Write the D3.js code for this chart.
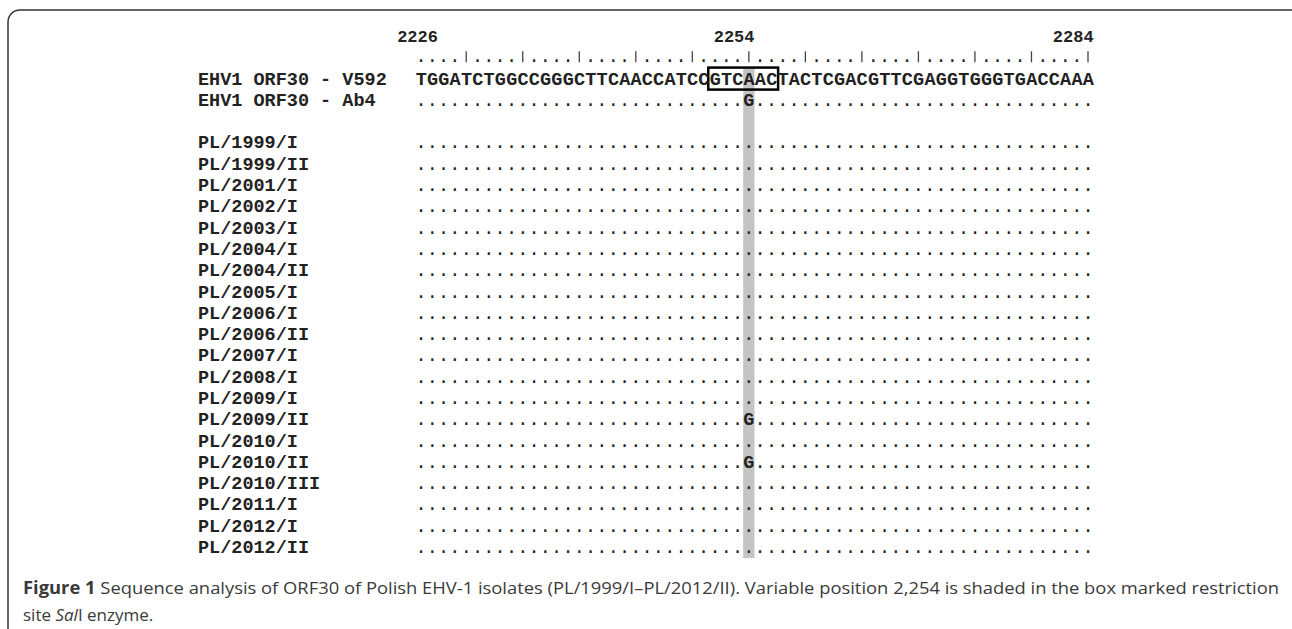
<!DOCTYPE html>
<html>
<head>
<meta charset="utf-8">
<script src="https://cdn.jsdelivr.net/npm/d3@7"></script>
<style>
  body { margin: 0; background: #fff; }
</style>
</head>
<body>
<script>
// reference sequence and the isolates aligned against it
var startPos = 2225;
var refLabel = "EHV1 ORF30 - V592";
var refSeq = "TGGATCTGGCCGGGCTTCAACCATCCGTCAACTACTCGACGTTCGAGGTGGGTGACCAAA";
var numberLabels = [2226, 2254, 2284];
var variablePos = 2254;
var siteStart = 2251, siteEnd = 2256;   // GTCAAC box

var seqLabels = ["EHV1 ORF30 - Ab4", "",
  "PL/1999/I", "PL/1999/II", "PL/2001/I", "PL/2002/I", "PL/2003/I",
  "PL/2004/I", "PL/2004/II", "PL/2005/I", "PL/2006/I", "PL/2006/II",
  "PL/2007/I", "PL/2008/I", "PL/2009/I", "PL/2009/II", "PL/2010/I",
  "PL/2010/II", "PL/2010/III", "PL/2011/I", "PL/2012/I", "PL/2012/II"];
// base at the variable position for each row ("." = same as V592)
var variableBase = [".", "",
  ".", ".", ".", ".", ".", ".", ".", ".", ".", ".",
  ".", ".", ".", "G", ".", "G", ".", ".", ".", "."];
variableBase[0] = "G";

var W = 1292, H = 629;
var svg = d3.select("body").append("svg")
    .attr("width", W)
    .attr("height", H);

// frame
svg.append("rect")
    .attr("x", 8).attr("y", 10)
    .attr("width", 1300).attr("height", 700)
    .attr("rx", 12)
    .attr("fill", "none")
    .attr("stroke", "#333")
    .attr("stroke-width", 1.5);

var n = refSeq.length;
var x = d3.scaleLinear().domain([0, n - 1]).range([421, 1088]);
var colW = (x(1) - x(0));
var y = d3.scaleLinear().domain([0, 24]).range([36, 547]);

var mono = "'Liberation Mono', 'DejaVu Sans Mono', monospace";
var fs = 18.5;

var vCol = variablePos - startPos;

// shaded column
svg.append("rect")
    .attr("x", x(vCol) - colW / 2)
    .attr("y", y(2) - 10)
    .attr("width", colW)
    .attr("height", y(24) + 11 - (y(2) - 10))
    .attr("fill", "#c4c4c4");

// restriction site box
svg.append("rect")
    .attr("x", x(siteStart - startPos) - colW / 2 - 1)
    .attr("y", y(2) - 11)
    .attr("width", x(siteEnd - startPos) - x(siteStart - startPos) + colW + 2)
    .attr("height", 22)
    .attr("fill", "none")
    .attr("stroke", "#000")
    .attr("stroke-width", 2.5);

var g = svg.append("g")
    .attr("font-family", mono)
    .attr("font-weight", "bold")
    .attr("font-size", fs)
    .attr("fill", "#222");

// position numbers
g.selectAll(".num")
  .data(numberLabels)
  .enter().append("text")
    .attr("class", "num")
    .attr("x", function(d) { return x(d - startPos) + colW / 2; })
    .attr("y", y(0) + 6)
    .attr("text-anchor", "end")
    .attr("font-size", 17)
    .text(function(d) { return d; });

// ruler
var cols = d3.range(n);
g.selectAll(".rdot")
  .data(cols.filter(function(i) { return (i + startPos) % 5 != 4; }))
  .enter().append("text")
    .attr("class", "rdot")
    .attr("x", function(i) { return x(i); })
    .attr("y", y(1) + 5)
    .attr("text-anchor", "middle")
    .attr("font-weight", "normal")
    .text(".");

svg.selectAll(".rtick")
  .data(cols.filter(function(i) { return (i + startPos) % 5 == 4; }))
  .enter().append("line")
    .attr("class", "rtick")
    .attr("x1", function(i) { return x(i); })
    .attr("x2", function(i) { return x(i); })
    .attr("y1", y(1) - 6)
    .attr("y2", y(1) + 5)
    .attr("stroke", "#444")
    .attr("stroke-width", 1.3);

// reference row
g.append("text")
    .attr("x", 198)
    .attr("y", y(2) + 6)
    .text(refLabel);

g.selectAll(".ref")
  .data(refSeq.split(""))
  .enter().append("text")
    .attr("class", "ref")
    .attr("x", function(d, i) { return x(i); })
    .attr("y", y(2) + 6)
    .attr("text-anchor", "middle")
    .attr("letter-spacing", -0.5)
    .text(function(d) { return d; });

// aligned rows
seqLabels.forEach(function(lab, r) {
    if (lab == "") return;
    var ry = y(r + 3);
    g.append("text")
        .attr("x", 198)
        .attr("y", ry + 6)
        .text(lab);

    var row = cols.map(function(i) { return i == vCol ? variableBase[r] : "."; });
    g.selectAll(".r" + r)
      .data(row)
      .enter().append("text")
        .attr("class", "r" + r)
        .attr("x", function(d, i) { return x(i); })
        .attr("y", ry + 6)
        .attr("text-anchor", "middle")
        .attr("font-weight", function(d) { return d == "." ? "normal" : "bold"; })
        .text(function(d) { return d; });
});

// caption
var cap = svg.append("g")
    .attr("font-family", "'Open Sans', 'Noto Sans', sans-serif")
    .attr("font-size", 17)
    .attr("fill", "#3a3a3a");

var l1 = cap.append("text")
    .attr("x", 23)
    .attr("y", 594)
    .attr("textLength", 1256)
    .attr("lengthAdjust", "spacingAndGlyphs");
l1.append("tspan").attr("font-weight", "bold").text("Figure 1");
l1.append("tspan").text(" Sequence analysis of ORF30 of Polish EHV-1 isolates (PL/1999/I\u2013PL/2012/II). Variable position 2,254 is shaded in the box marked restriction");

var l2 = cap.append("text")
    .attr("x", 23)
    .attr("y", 621);
l2.append("tspan").text("site ");
l2.append("tspan").attr("font-style", "italic").text("Sal");
l2.append("tspan").text("I enzyme.");
</script>
</body>
</html>
